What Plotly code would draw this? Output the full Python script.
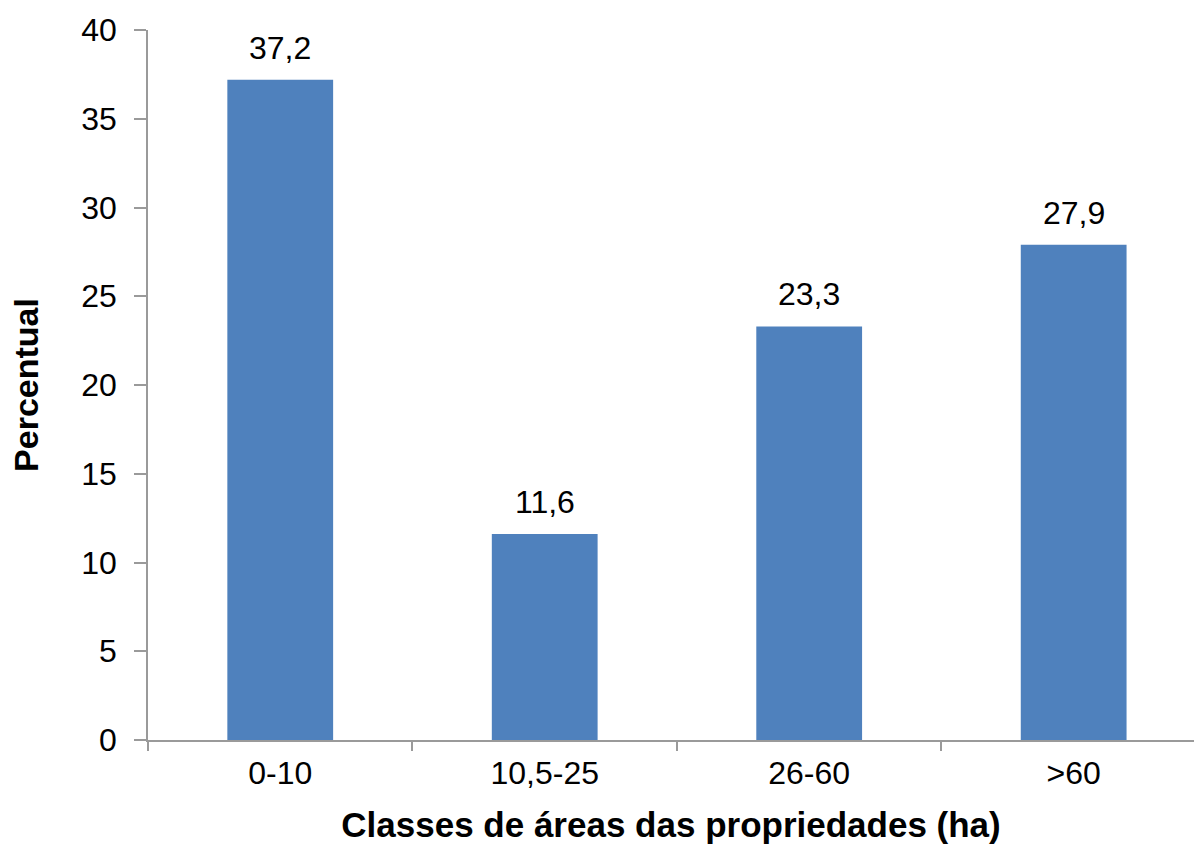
import plotly.graph_objects as go

categories = ["0-10", "10,5-25", "26-60", ">60"]
values = [37.2, 11.6, 23.3, 27.9]
labels = ["37,2", "11,6", "23,3", "27,9"]
y_ticks = [0, 5, 10, 15, 20, 25, 30, 35, 40]

FONT = "Liberation Sans, Arial, sans-serif"
AXIS_COLOR = "#9a9a9a"

fig = go.Figure()
fig.add_trace(go.Bar(
    x=categories, y=values, width=0.4,
    marker=dict(color="#4F81BD", line=dict(width=0)),
    hoverinfo="skip",
))

for c, v, t in zip(categories, values, labels):
    fig.add_annotation(x=c, y=v, text=t, showarrow=False, yanchor="bottom",
                       yshift=12, font=dict(family=FONT, size=32, color="#000000"))

fig.update_layout(
    width=1194, height=846,
    margin=dict(l=148, r=0, t=30, b=106),
    plot_bgcolor="white", paper_bgcolor="white",
    showlegend=False,
    font=dict(family=FONT, color="#000000"),
    xaxis=dict(
        type="category",
        range=[-0.5, 3.455],
        showline=True, linecolor=AXIS_COLOR, linewidth=1.5,
        ticks="outside", tickson="boundaries", ticklen=9, tickcolor=AXIS_COLOR, tickwidth=1.5,
        showgrid=False, zeroline=False,
        tickfont=dict(family=FONT, size=32, color="#000000"),
        ticklabelstandoff=4,
        title=dict(text="<b>Classes de áreas das propriedades (ha)</b>",
                   font=dict(family=FONT, size=35, color="#000000"), standoff=22),
    ),
    yaxis=dict(
        range=[0, 40],
        tickvals=y_ticks, ticktext=[str(v) for v in y_ticks],
        showline=True, linecolor=AXIS_COLOR, linewidth=1.5,
        ticks="outside", ticklen=12, tickcolor=AXIS_COLOR, tickwidth=1.5,
        showgrid=False, zeroline=False,
        tickfont=dict(family=FONT, size=32, color="#000000"),
        ticklabelstandoff=11,
        title=dict(text="<b>Percentual</b>",
                   font=dict(family=FONT, size=34, color="#000000"), standoff=32),
    ),
)

fig.write_html("out.html")
